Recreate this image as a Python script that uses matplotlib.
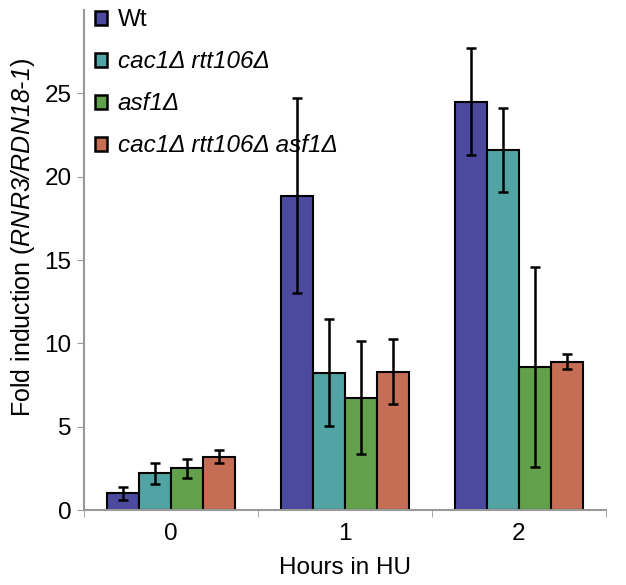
import numpy as np
import matplotlib
matplotlib.use('Agg')
import matplotlib.pyplot as plt

plt.rcParams['font.family'] = ['Liberation Sans', 'DejaVu Sans']
plt.rcParams['mathtext.fontset'] = 'custom'
plt.rcParams['mathtext.rm'] = 'Liberation Sans'
plt.rcParams['mathtext.it'] = 'Liberation Sans:italic'
plt.rcParams['mathtext.sf'] = 'Liberation Sans:italic'

hours = ['0', '1', '2']
strains = ['Wt', 'cac1\u0394 rtt106\u0394', 'asf1\u0394', 'cac1\u0394 rtt106\u0394 asf1\u0394']
colors = ['#4B4A9E', '#52A3A3', '#62A04B', '#C66E55']

wt = [1.0, 18.85, 24.5]
cac1_rtt106 = [2.2, 8.25, 21.6]
asf1 = [2.5, 6.75, 8.6]
triple = [3.2, 8.3, 8.9]

wt_err = [0.4, 5.85, 3.2]
cac1_rtt106_err = [0.65, 3.2, 2.5]
asf1_err = [0.55, 3.4, 6.0]
triple_err = [0.4, 1.95, 0.45]

values = [wt, cac1_rtt106, asf1, triple]
errors = [wt_err, cac1_rtt106_err, asf1_err, triple_err]

fs = 17.5

fig = plt.figure(figsize=(6.26, 5.85), dpi=100)
ax = fig.add_axes([0.134, 0.128, 0.834, 0.855])

x = np.arange(len(hours))
barWidth = 0.185
for i in range(len(strains)):
    pos = x + (i - 1.5) * barWidth
    ax.bar(pos, values[i], width=barWidth, color=colors[i], edgecolor='black',
           linewidth=1.5, label=strains[i], zorder=2)
    ax.errorbar(pos, values[i], yerr=errors[i], fmt='none', ecolor='black',
                elinewidth=1.8, capsize=3.5, capthick=1.8, zorder=3)

ax.set_xlim(-0.5, 2.5)
ax.set_ylim(0, 30)
ax.set_yticks([0, 5, 10, 15, 20, 25])
ax.set_xticks(x)
ax.set_xticklabels(hours)
ax.set_xticks([-0.5, 0.5, 1.5, 2.5], minor=True)
ax.tick_params(axis='x', which='major', length=0, labelsize=fs, pad=9)
ax.tick_params(axis='x', which='minor', length=5, color='#999999', direction='out')
ax.tick_params(axis='y', length=5, color='#999999', labelsize=fs, direction='out', pad=4)

for s in ['top', 'right']:
    ax.spines[s].set_visible(False)
for s in ['left', 'bottom']:
    ax.spines[s].set_color('#999999')
    ax.spines[s].set_linewidth(1.5)

ax.set_xlabel('Hours in HU', fontsize=fs, labelpad=9)
ax.set_ylabel('Fold induction ($\\mathsf{RNR3/RDN18\u20101}$)', fontsize=18)
ax.yaxis.set_label_coords(-0.09, 0.546)

leg = ax.legend(loc='upper left', bbox_to_anchor=(-0.012, 1.035), frameon=False, fontsize=fs,
                handlelength=0.5, handleheight=0.5, handletextpad=0.45,
                labelspacing=0.78, borderaxespad=0.3)
for h in leg.legend_handles:
    h.set_linewidth(1.8)
for t in leg.get_texts()[1:]:
    t.set_style('italic')

fig.savefig('out.png', dpi=100)
